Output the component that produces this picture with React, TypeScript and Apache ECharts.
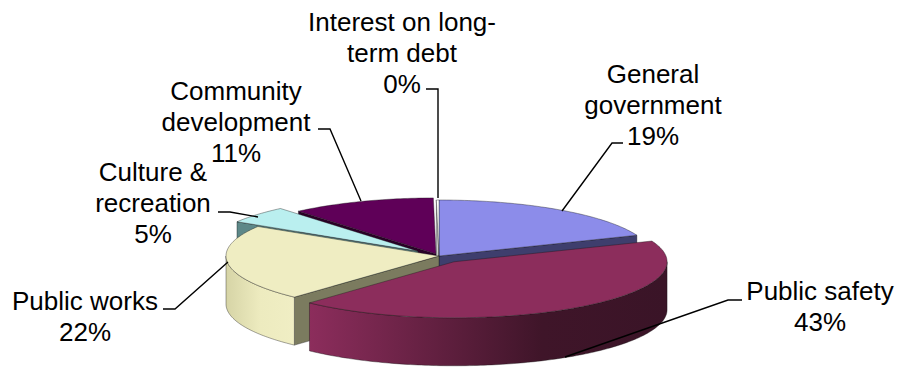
import React, { useEffect, useRef } from "react";
import * as echarts from "echarts";

// ---- data ----
const categories = [
  "General government",
  "Public safety",
  "Public works",
  "Culture & recreation",
  "Community development",
  "Interest on long-term debt",
];
const values = [19, 43, 22, 5, 11, 0.2];
const labelNameLines = [
  ["General", "government"],
  ["Public safety"],
  ["Public works"],
  ["Culture &", "recreation"],
  ["Community", "development"],
  ["Interest on long-", "term debt"],
];

// ---- styles / layout ----
const topColors = ["#8C8CEA", "#8C2D5C", "#EFEDC2", "#BAEFEF", "#5F0058", "#FFFFFF"];
const cutColors = ["#3E3E6D", "#4A1A33", "#7B7B5F", "#5D8888", "#2A0027", "#CCCCCC"];
const wallFills: any[] = [
  "#3E3E6D",
  {
    type: "linear", x: 0, y: 0, x2: 1, y2: 0,
    colorStops: [
      { offset: 0, color: "#8C2D5C" },
      { offset: 0.65, color: "#3F1529" },
      { offset: 1, color: "#3A1427" },
    ],
  },
  {
    type: "linear", x: 0, y: 0, x2: 1, y2: 0,
    colorStops: [
      { offset: 0, color: "#D6D4A6" },
      { offset: 0.5, color: "#EDEBBF" },
      { offset: 1, color: "#F0EEC4" },
    ],
  },
  "#5D8888",
  "#2A0027",
  "#DDDDDD",
];
const explode = [0, 0.125, 0, 0.13, 0.04, 0];
const labelPos = [
  [653, 105],
  [820, 306.5],
  [85, 316.5],
  [153, 203],
  [236, 121.5],
  [402, 53],
];
const leaders = [
  [[623, 143], [612, 143], [562, 211]],
  [[742, 300], [728, 300], [565, 357]],
  [[163, 309], [175, 309], [228, 262]],
  [[218, 212], [230, 212], [258, 217]],
  [[318, 129], [330, 129], [361, 201]],
  [[426, 89], [438, 89], [438, 198]],
];

const CX = 439, CY = 256, RX = 213, RY = 56, DEPTH = 48;

const total = values.reduce((a, b) => a + b, 0);
type Slice = { a0: number; a1: number; ox: number; oy: number };
const slices: Slice[] = [];
{
  let acc = 0;
  values.forEach((v, i) => {
    const a0 = (acc / total) * 360;
    acc += v;
    const a1 = (acc / total) * 360;
    const mid = ((a0 + a1) / 2) * Math.PI / 180;
    const e = explode[i] * RX;
    slices.push({ a0, a1, ox: e * Math.sin(mid), oy: -e * Math.cos(mid) * RY / RX });
  });
}
const pt = (s: Slice, deg: number, dz: number) => {
  const r = (deg * Math.PI) / 180;
  return [CX + s.ox + RX * Math.sin(r), CY + s.oy - RY * Math.cos(r) + dz];
};
const arc = (s: Slice, from: number, to: number, dz: number) => {
  const pts: number[][] = [];
  const n = Math.max(2, Math.ceil(Math.abs(to - from)));
  for (let k = 0; k <= n; k++) pts.push(pt(s, from + ((to - from) * k) / n, dz));
  return pts;
};
const center = (s: Slice, dz: number) => [CX + s.ox, CY + s.oy + dz];
const avgY = (pts: number[][]) => pts.reduce((a, p) => a + p[1], 0) / pts.length;

const edgeStroke = "rgba(20,20,20,0.55)";

function renderCuts(params: any) {
  const i = params.dataIndex;
  const s = slices[i];
  const children: any[] = [];
  const faces: number[] = [];
  if (Math.sin((s.a0 * Math.PI) / 180) < -1e-6) faces.push(s.a0);
  if (Math.sin((s.a1 * Math.PI) / 180) > 1e-6) faces.push(s.a1);
  faces.forEach((a) => {
    const pts = [center(s, 0), pt(s, a, 0), pt(s, a, DEPTH), center(s, DEPTH)];
    children.push({
      type: "polygon",
      shape: { points: pts },
      z2: Math.round(avgY(pts) * 10),
      style: { fill: cutColors[i], stroke: edgeStroke, lineWidth: 0.7 },
    });
  });
  return { type: "group", children };
}

function renderWalls(params: any) {
  const i = params.dataIndex;
  const s = slices[i];
  const from = Math.max(s.a0, 90);
  const to = Math.min(s.a1, 270);
  if (from >= to) return { type: "group", children: [] };
  const pts = [...arc(s, from, to, 0), ...arc(s, to, from, DEPTH)];
  return {
    type: "polygon",
    shape: { points: pts },
    z2: Math.round(avgY(pts) * 10),
    style: { fill: wallFills[i], stroke: edgeStroke, lineWidth: 0.7 },
  };
}

function renderTops(params: any) {
  const i = params.dataIndex;
  const s = slices[i];
  const pts = [center(s, 0), ...arc(s, s.a0, s.a1, 0)];
  return {
    type: "polygon",
    shape: { points: pts },
    style: { fill: topColors[i], stroke: edgeStroke, lineWidth: 0.7 },
  };
}

const seriesData = values.map((v, i) => ({ name: categories[i], value: [i, v] }));

const labelGraphics: any[] = [];
values.forEach((v, i) => {
  const pct = Math.round((v / total) * 100);
  labelGraphics.push({
    type: "polyline",
    shape: { points: leaders[i] },
    style: { stroke: "#000", lineWidth: 1.4, fill: null },
    z: 50,
    silent: true,
  });
  labelGraphics.push({
    type: "text",
    x: labelPos[i][0],
    y: labelPos[i][1],
    z: 60,
    silent: true,
    style: {
      text: [...labelNameLines[i], `${pct}%`].join("\n"),
      fill: "#000",
      fontSize: 26,
      fontFamily: '"Liberation Sans", Arial, sans-serif',
      lineHeight: 31,
      align: "center",
      verticalAlign: "middle",
    },
  });
});

const option: any = {
  animation: false,
  backgroundColor: "#ffffff",
  series: [
    { type: "custom", coordinateSystem: "none", z: 1, silent: true, renderItem: renderCuts, data: seriesData },
    { type: "custom", coordinateSystem: "none", z: 2, silent: true, renderItem: renderWalls, data: seriesData },
    { type: "custom", coordinateSystem: "none", z: 3, silent: true, renderItem: renderTops, data: seriesData },
  ],
  graphic: labelGraphics,
};

export default function App() {
  const ref = useRef<HTMLDivElement>(null);
  useEffect(() => {
    document.body.style.margin = "0";
    const chart = echarts.init(ref.current!, null, { renderer: "svg" });
    chart.setOption(option);
    return () => chart.dispose();
  }, []);
  return <div ref={ref} style={{ width: 899, height: 367 }} />;
}
